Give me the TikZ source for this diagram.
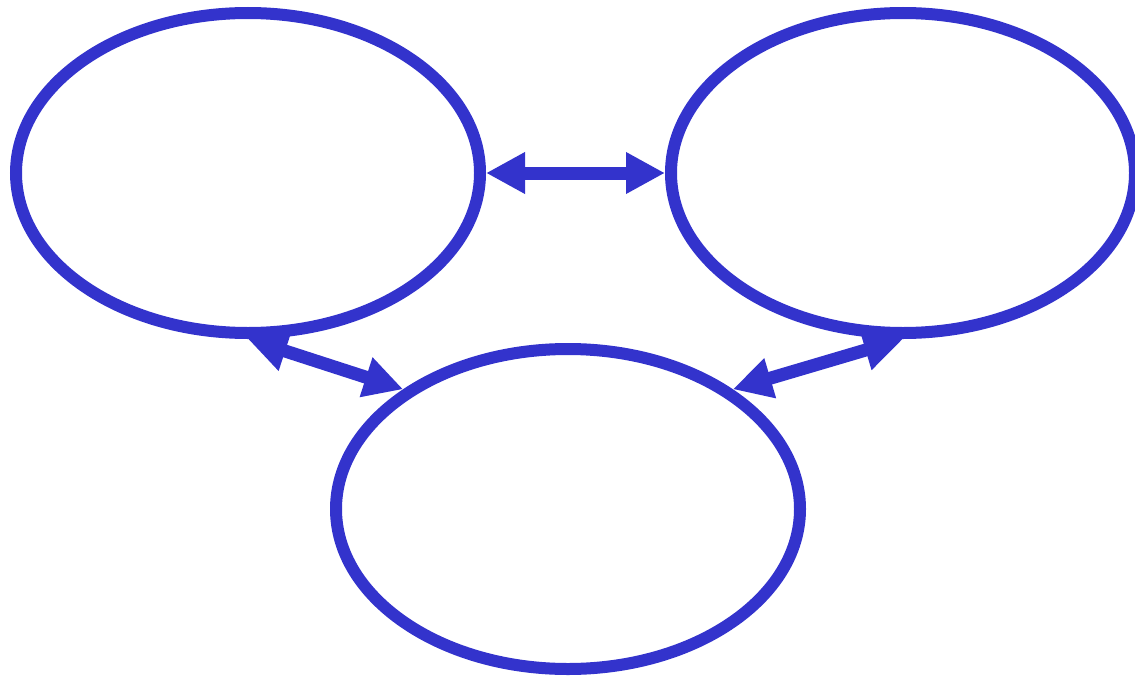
\documentclass[tikz,border=0pt]{standalone}
\usetikzlibrary{shapes.geometric,arrows.meta}
\definecolor{nodeblue}{RGB}{51,51,204}
\begin{document}
\begin{tikzpicture}[x=1pt,y=-1pt,
  bubble/.style={ellipse,draw=nodeblue,line width=12pt,minimum width=464pt,minimum height=320pt,inner sep=0pt},
  link/.style={draw=nodeblue,line width=13pt,{Triangle[length=39pt,width=39pt]}-{Triangle[length=39pt,width=39pt]}}]
\useasboundingbox (0,0) rectangle (1135,677);
\node[bubble] (a) at (248,173) {};
\node[bubble] (b) at (903,173) {};
\node[bubble] (c) at (568,509) {};
\draw[link] (a.east) -- (b.west);
\draw[link] (a.south) -- (c.144);
\draw[link] (b.south) -- (c.36);
\end{tikzpicture}
\end{document}
